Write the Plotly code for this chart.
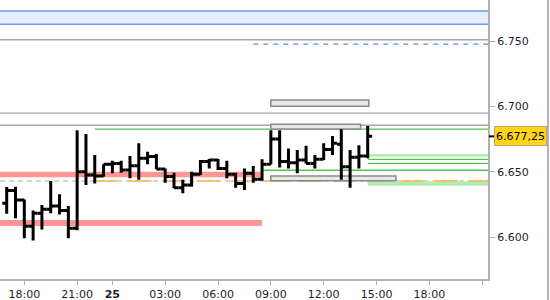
import plotly.graph_objects as go

# ---- data ----
times = [
    "2024-01-24 17:00", "2024-01-24 17:30", "2024-01-24 18:00", "2024-01-24 18:30",
    "2024-01-24 19:00", "2024-01-24 19:30", "2024-01-24 20:00", "2024-01-24 20:30",
    "2024-01-24 21:00", "2024-01-24 21:30", "2024-01-24 23:00", "2024-01-24 23:30",
    "2024-01-25 00:00", "2024-01-25 00:30", "2024-01-25 01:00", "2024-01-25 01:30",
    "2024-01-25 02:00", "2024-01-25 02:30", "2024-01-25 03:00", "2024-01-25 03:30",
    "2024-01-25 04:00", "2024-01-25 04:30", "2024-01-25 05:00", "2024-01-25 05:30",
    "2024-01-25 06:00", "2024-01-25 06:30", "2024-01-25 07:00", "2024-01-25 07:30",
    "2024-01-25 08:00", "2024-01-25 08:30", "2024-01-25 09:00", "2024-01-25 09:30",
    "2024-01-25 10:00", "2024-01-25 10:30", "2024-01-25 11:00", "2024-01-25 11:30",
    "2024-01-25 12:00", "2024-01-25 12:30", "2024-01-25 13:00", "2024-01-25 13:30",
    "2024-01-25 14:00", "2024-01-25 14:30",
]
opens = [6626, 6635.75, 6628.5, 6608.5, 6618.5, 6621.5, 6624, 6620.5,
         6607, 6650.25, 6647.75, 6647, 6656, 6656.5, 6651.5, 6654.75,
         6660.5, 6661.75, 6652.25, 6646.5, 6638, 6640, 6648.25, 6658,
         6659.25, 6652.75, 6648.25, 6641.25, 6649, 6644.5, 6656, 6675.25,
         6658, 6657, 6659.25, 6656.5, 6659.75, 6667.25, 6671.25, 6654,
         6661.25, 6662.25]
highs = [6638.5, 6638.75, 6629, 6620.5, 6624.75, 6643, 6633, 6624,
         6682, 6679, 6663, 6656, 6658.5, 6658.5, 6662.25, 6672,
         6665.5, 6663.75, 6652.75, 6649.5, 6644, 6650.25, 6659.25, 6660,
         6660, 6658.5, 6649.5, 6652.75, 6654.5, 6659.75, 6682, 6682,
         6668, 6666.75, 6670, 6663, 6672, 6677.5, 6682.75, 6666.75,
         6670.5, 6685.25]
lows = [6618, 6614.5, 6599.25, 6597.5, 6606, 6618.5, 6617.5, 6599.25,
        6605.5, 6640, 6641.25, 6646.5, 6649, 6649.5, 6645.25, 6644,
        6656, 6652, 6641.75, 6637.5, 6633.75, 6638.75, 6647.75, 6652.75,
        6651.5, 6645.25, 6638, 6636.25, 6641.75, 6643.25, 6655.75, 6653.5,
        6652.75, 6649, 6656.5, 6652.75, 6659.25, 6663, 6644, 6638,
        6652.75, 6660.5]
closes = [6635.75, 6628.5, 6608.5, 6618.5, 6621.5, 6624, 6620.5, 6607,
          6650.25, 6647.75, 6647, 6656, 6656.5, 6651.5, 6654.75, 6660.5,
          6661.75, 6652.25, 6646.5, 6638, 6640, 6648.25, 6658, 6659.25,
          6652.75, 6648.25, 6641.25, 6649, 6644.5, 6656, 6675.25, 6658,
          6657, 6659.25, 6656.5, 6659.75, 6667.25, 6672, 6654, 6661.25,
          6662.25, 6677.25]

last_price = 6677.25
last_label = "6.677,25"

x_tickvals = ["2024-01-24 18:00", "2024-01-24 21:00", "2024-01-25 00:00",
              "2024-01-25 03:00", "2024-01-25 06:00", "2024-01-25 09:00",
              "2024-01-25 12:00", "2024-01-25 15:00", "2024-01-25 18:00",
              "2024-01-25 21:00"]
x_ticktext = ["18:00", "21:00", "<b>25</b>", "03:00", "06:00", "09:00",
              "12:00", "15:00", "18:00", ""]
y_tickvals = [6600, 6650, 6700, 6750]

x_start = "2024-01-24 16:37:10"
x_end = "2024-01-25 21:19:50"
y_min, y_max = 6568.1, 6781.6

# level zones
blue_zone = (6763.0, 6773.2)
salmon_zones = [(6645.9, 6650.2), (6608.6, 6613.2)]
salmon_end = "2024-01-25 08:30"
green_zones = [(6661.7, 6663.75), (6639.5, 6642.9)]
green_zone_start = "2024-01-25 14:30"
gray_levels = [6751.2, 6695.1, 6685.75]
green_levels = [(6682.75, "2024-01-24 23:00"), (6659.7, "2024-01-25 14:30"),
                (6656.6, "2024-01-25 14:30"), (6651.3, "2024-01-25 08:30")]
blue_dash_level = (6747.9, "2024-01-25 08:00")
dash_level = 6643.1
orange_start = "2024-01-24 23:00"
boxes = [("2024-01-25 09:00", "2024-01-25 14:34", 6700.3, 6705.1),
         ("2024-01-25 09:00", "2024-01-25 14:06", 6682.9, 6686.5),
         ("2024-01-25 09:00", "2024-01-25 16:06", 6643.3, 6646.9)]

# ---- figure ----
fig = go.Figure()
fig.add_trace(go.Ohlc(
    x=times, open=opens, high=highs, low=lows, close=closes,
    increasing=dict(line=dict(color="black", width=3)),
    decreasing=dict(line=dict(color="black", width=3)),
    tickwidth=0.5, showlegend=False, hoverinfo="skip",
))

shapes = []
# blue zone: fill + top/bottom borders
shapes.append(dict(type="rect", xref="paper", yref="y", x0=0, x1=1,
                   y0=blue_zone[0], y1=blue_zone[1], fillcolor="#e6edfd",
                   line=dict(width=0), layer="below"))
for lv in blue_zone:
    shapes.append(dict(type="line", xref="paper", yref="y", x0=0, x1=1, y0=lv, y1=lv,
                       line=dict(color="#6d9bf1", width=1.5), layer="below"))
# salmon zones
for lo, hi in salmon_zones:
    shapes.append(dict(type="rect", xref="x", yref="y", x0=x_start, x1=salmon_end,
                       y0=lo, y1=hi, fillcolor="#ff9595", line=dict(width=0),
                       layer="below"))
# green zones
for lo, hi in green_zones:
    shapes.append(dict(type="rect", xref="x", yref="y", x0=green_zone_start, x1=x_end,
                       y0=lo, y1=hi, fillcolor="#b5ebb5", line=dict(width=0),
                       layer="below"))
# gray levels
for lv in gray_levels:
    shapes.append(dict(type="line", xref="paper", yref="y", x0=0, x1=1, y0=lv, y1=lv,
                       line=dict(color="#a6a6a6", width=1.3), layer="below"))
# blue dashed
shapes.append(dict(type="line", xref="x", yref="y", x0=blue_dash_level[1], x1=x_end,
                   y0=blue_dash_level[0], y1=blue_dash_level[0],
                   line=dict(color="#5b8ff0", width=1.2, dash="5px,5px"), layer="below"))
# gray dashed + orange dashed
shapes.append(dict(type="line", xref="paper", yref="y", x0=0, x1=1, y0=dash_level, y1=dash_level,
                   line=dict(color="#c8c8c8", width=1.3, dash="5px,4px"), layer="below"))
shapes.append(dict(type="line", xref="x", yref="y", x0=orange_start, x1=x_end,
                   y0=dash_level, y1=dash_level,
                   line=dict(color="#f2b84a", width=1.3, dash="23px,11px"), layer="below"))
# green levels
for lv, st in green_levels:
    shapes.append(dict(type="line", xref="x", yref="y", x0=st, x1=x_end, y0=lv, y1=lv,
                       line=dict(color="#55c355", width=1.3), layer="below"))
# boxes
for t0, t1, lo, hi in boxes:
    shapes.append(dict(type="rect", xref="x", yref="y", x0=t0, x1=t1, y0=lo, y1=hi,
                       fillcolor="#e8e8e8", line=dict(color="#8a8a8a", width=1.5),
                       layer="below"))
# last price tick
shapes.append(dict(type="line", xref="paper", yref="y", x0=1.002, x1=1.013,
                   y0=last_price, y1=last_price, line=dict(color="black", width=2)))
# right border line
shapes.append(dict(type="line", xref="paper", yref="paper", x0=1.123, x1=1.123,
                   y0=-0.08, y1=1.0, line=dict(color="#b4b4b4", width=2)))

fig.update_layout(
    width=550, height=300,
    margin=dict(l=0, r=62, t=0, b=21),
    paper_bgcolor="white", plot_bgcolor="rgba(0,0,0,0)",
    separators=",.",
    font=dict(family="DejaVu Sans", size=11, color="#1e1e28"),
    shapes=shapes,
    xaxis=dict(
        type="date", range=[x_start, x_end],
        rangebreaks=[dict(pattern="hour", bounds=[22, 23])],
        rangeslider=dict(visible=False),
        tickvals=x_tickvals, ticktext=x_ticktext,
        showgrid=False, zeroline=False,
        showline=True, linecolor="#b0b0b0", linewidth=2,
        ticks="outside", ticklen=4, tickcolor="#b0b0b0", tickwidth=1,
        tickfont=dict(family="DejaVu Sans", size=11, color="#1e1e28"),
    ),
    yaxis=dict(
        side="right", range=[y_min, y_max],
        tickvals=y_tickvals, tickformat=",.0f",
        showgrid=False, zeroline=False,
        showline=True, linecolor="#b0b0b0", linewidth=2,
        ticks="outside", ticklen=5, tickcolor="#b0b0b0", tickwidth=1,
        tickfont=dict(family="DejaVu Sans", size=11, color="#1e1e28"),
    ),
    annotations=[dict(
        xref="paper", yref="y", x=1, y=last_price, xanchor="left", yanchor="middle",
        xshift=6, text=last_label, showarrow=False,
        font=dict(family="DejaVu Sans", size=11, color="black"),
        bgcolor="#ffd41c", bordercolor="#b8a66a", borderwidth=1, borderpad=1,
        width=49, height=16,
    )],
)

fig.write_html("out.html")
